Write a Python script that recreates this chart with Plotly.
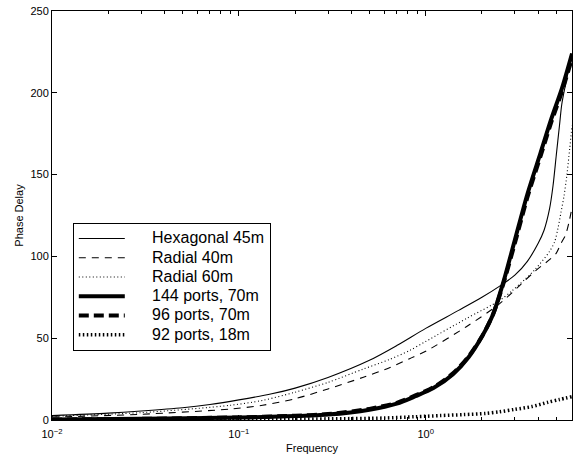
import plotly.graph_objects as go

# ---- data ----
hex_f = [0.01, 0.02, 0.03, 0.05, 0.07, 0.1, 0.15, 0.2, 0.3, 0.5, 0.7, 1.0, 1.5, 2.0, 2.5, 3.0, 3.5, 4.0, 4.3, 4.6, 4.8, 5.0, 5.2, 5.35, 5.6, 6.07]
hex_y = [2.7, 4.2, 5.5, 7.5, 9.5, 12.3, 16, 19.5, 26, 36.5, 45.5, 56, 67, 75, 82, 88.5, 97, 108, 116, 129, 143, 162, 180, 193, 205, 224]

r40_f = [0.01, 0.03, 0.09, 0.134, 0.2, 0.3, 0.46, 0.64, 0.82, 1.0, 1.65, 2.48, 3.17, 3.85, 4.6, 5.0, 5.3, 5.6, 5.85, 6.07]
r40_y = [1.8, 3.5, 6.7, 9, 13, 19, 26, 32, 37.5, 42, 57, 71, 82, 91, 98, 102, 108, 113, 121, 130]

r60_f = [0.01, 0.03, 0.09, 0.134, 0.2, 0.3, 0.46, 0.64, 0.82, 1.0, 1.65, 2.48, 2.9, 3.4, 3.85, 4.6, 4.9, 5.1, 5.3, 5.5, 5.7, 5.9, 6.07]
r60_y = [2.3, 4.5, 9, 12, 17, 23, 31, 37, 42.5, 48, 62, 73, 79, 86, 92, 103, 109, 117, 127, 137, 150, 166, 180]

p144_f = [0.01, 0.03, 0.1, 0.2, 0.3, 0.5, 0.7, 0.88, 1.1, 1.4, 1.7, 2.0, 2.3, 2.6, 3.0, 3.5, 4.11, 4.7, 5.37, 6.07]
p144_y = [0.3, 0.7, 1.5, 2.4, 3.3, 6.3, 10, 14.5, 19.5, 28, 38.5, 51, 65, 84, 110, 138, 163, 184, 203, 224]

p96_f = [0.01, 0.03, 0.1, 0.2, 0.3, 0.5, 0.7, 0.88, 1.1, 1.4, 1.7, 2.0, 2.3, 2.6, 3.0, 3.5, 4.11, 4.7, 5.37, 6.07]
p96_y = [0.3, 0.7, 1.6, 2.6, 3.6, 6.8, 10.5, 15, 20, 28.5, 39, 51, 65, 83, 108, 136, 161, 182, 201, 221]

p92_f = [0.01, 0.1, 0.3, 0.6, 0.88, 1.2, 1.6, 2.09, 2.48, 3.0, 3.7, 4.5, 5.2, 6.07]
p92_y = [0.2, 0.4, 0.7, 1.2, 2, 2.7, 3.3, 4, 5, 6.5, 8.2, 10.8, 12.5, 14.3]

x_tickvals = [0.01, 0.1, 1]
x_ticktext = ["10<sup>−2</sup>", "10<sup>−1</sup>", "10<sup>0</sup>"]
x_minor = [0.02, 0.03, 0.04, 0.05, 0.06, 0.07, 0.08, 0.09,
           0.2, 0.3, 0.4, 0.5, 0.6, 0.7, 0.8, 0.9,
           2, 3, 4, 5, 6]
y_tickvals = [0, 50, 100, 150, 200, 250]

FONT = "Liberation Sans, Arial, Helvetica, sans-serif"

series = [
    ("Hexagonal 45m", hex_f, hex_y, dict(color="black", width=1.1)),
    ("Radial 40m", r40_f, r40_y, dict(color="black", width=1.1, dash="7px,6px")),
    ("Radial 60m", r60_f, r60_y, dict(color="black", width=1.1, dash="1px,2.5px")),
    ("144 ports, 70m", p144_f, p144_y, dict(color="black", width=4)),
    ("96 ports, 70m", p96_f, p96_y, dict(color="black", width=4, dash="10px,5px")),
    ("92 ports, 18m", p92_f, p92_y, dict(color="black", width=3.5, dash="1.5px,2.5px")),
]

PAD = "\u00a0" * 5

fig = go.Figure()
for name, f, y, line in series:
    fig.add_trace(go.Scatter(x=f, y=y, mode="lines",
                             name="<span style='font-size:16px'>" + PAD + name + "</span>",
                             line=dict(shape="spline", smoothing=0.8, **line)))

fig.update_layout(
    width=578, height=458,
    margin=dict(l=52, r=5, t=10, b=37),
    paper_bgcolor="white", plot_bgcolor="white",
    font=dict(family=FONT, size=11, color="black"),
    showlegend=True,
    legend=dict(x=0.04, y=0.482, xanchor="left", yanchor="top",
                bgcolor="white", bordercolor="black", borderwidth=1,
                font=dict(family=FONT, size=12.5, color="black"),
                itemwidth=46, tracegroupgap=0),
)
fig.update_xaxes(type="log", range=[-2, 0.783],
                 tickmode="array", tickvals=x_tickvals, ticktext=x_ticktext,
                 ticks="inside", ticklen=5, tickcolor="black",
                 ticklabelstandoff=4,
                 minor=dict(tickmode="array", tickvals=x_minor, ticks="inside", ticklen=3, tickcolor="black", showgrid=False),
                 showline=True, linecolor="black", linewidth=1, mirror="ticks",
                 showgrid=False, zeroline=False,
                 title=dict(text="Frequency", font=dict(size=11), standoff=5))
fig.update_yaxes(range=[0, 250], tickmode="array", tickvals=y_tickvals,
                 ticks="inside", ticklen=5, tickcolor="black",
                 showline=True, linecolor="black", linewidth=1, mirror="ticks",
                 showgrid=False, zeroline=False,
                 title=dict(text="Phase Delay", font=dict(size=11), standoff=4))

fig.write_html("out.html", config={"displayModeBar": False},
               post_script="document.body.style.margin='0';")
